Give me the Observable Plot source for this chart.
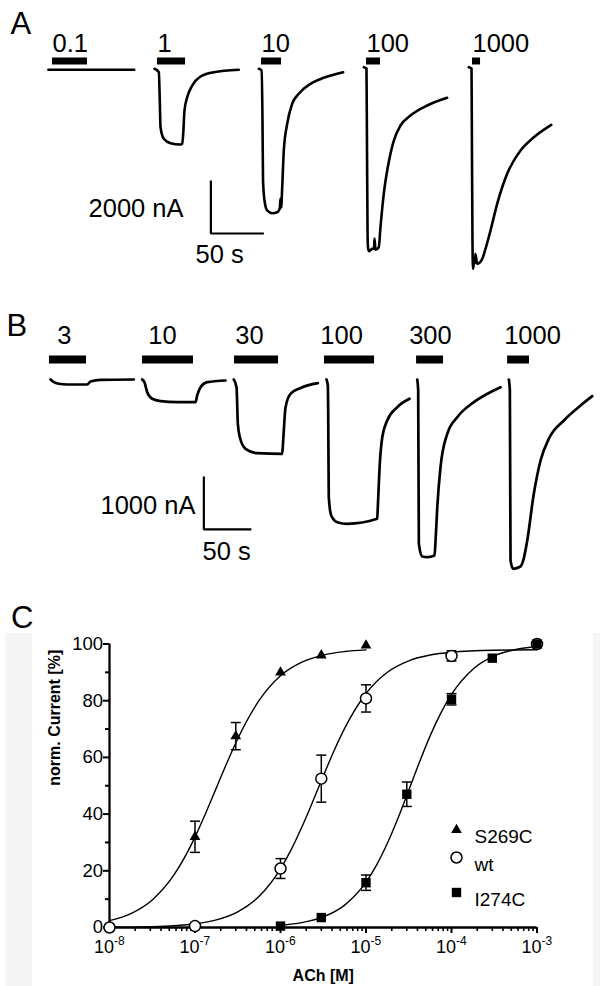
<!DOCTYPE html>
<html><head><meta charset="utf-8">
<script src="https://cdn.jsdelivr.net/npm/d3@7"></script>
<script src="https://cdn.jsdelivr.net/npm/@observablehq/plot@0.6"></script>
<style>
html,body{margin:0;padding:0;background:#fff;}
#root{position:relative;width:600px;height:986px;overflow:hidden;}
#root svg{display:block;}
.band{position:absolute;background:#f5f5f5;}
</style></head>
<body>
<div id="root">
  <div class="band" style="left:5px;top:633px;width:27px;height:353px"></div>
  <div class="band" style="left:593px;top:633px;width:7px;height:353px"></div>
  <div id="pa"></div><div id="pb"></div><div id="pc"></div>
</div>
<script>
// ---------- Panel A: current traces (time in s, current in nA) ----------
const traceA_01 = [[-2,-10],[20,-12],[40,-10],[60,-11],[79,-10]];
const traceA_1 = [[98.1,26],[102.2,-102],[103.1,-1170],[103.8,-2178],[106.9,-2615],[113.2,-2781],[122.6,-2830],[124.2,-2804],[125.2,-2427],[126.4,-1547],[129.0,-1045],[133.7,-604],[141.5,-264],[154.1,-102],[177.6,-11]];
const traceA_10 = [[196.5,26],[199.1,-38],[200.0,-1925],[200.5,-4189],[201.9,-4944],[204.4,-5321],[209.1,-5423],[213.9,-5385],[216.3,-5246],[217.0,-4868],[217.6,-5208],[218.6,-4442],[220.1,-3057],[223.3,-2049],[228.0,-1294],[234.2,-917],[245.3,-540],[257.8,-313],[276.1,-102]];
const traceA_100 = [[295.6,87],[298.1,38],[298.6,-3057],[299.1,-6076],[299.5,-6706],[300.3,-6857],[303.5,-6767],[305.2,-6755],[305.7,-6378],[306.6,-6804],[309.7,-6706],[311.3,-5952],[314.4,-4691],[318.2,-3687],[323.9,-2680],[330.2,-2113],[339.6,-1736],[355.4,-1359],[374.2,-1068]];
const traceA_1000 = [[394.6,87],[397.2,38],[397.6,-3057],[398.1,-6453],[398.6,-7521],[399.3,-7333],[400.5,-7284],[400.9,-6955],[402.5,-7333],[407.3,-7144],[410.4,-6767],[415.1,-6076],[421.4,-5069],[430.8,-3936],[443.4,-3057],[456.0,-2555],[472.4,-2087]];
const concLabelsA = ["0.1","1","10","100","1000"];
const barStartA = [1.9,100.9,199.1,298.1,398.1];
const barEndA = [34.9,127.4,217.9,311.3,405.7];

// ---------- Panel B ----------
const traceB_3 = [[0,0],[3.5,-51],[8.4,-81],[17.6,-94],[38.6,-94],[42.1,-38],[52.6,-6],[87.7,0]];
const traceB_10 = [[96.5,0],[98.9,-51],[101.8,-240],[107.0,-364],[115.8,-409],[133.4,-428],[152.6,-428],[154.4,-302],[157.9,-145],[164.9,-51],[184.2,-19]];
const traceB_30 = [[192.9,0],[195.8,-145],[197.2,-836],[199.3,-1089],[205.3,-1308],[217.6,-1391],[243.9,-1402],[244.9,-1151],[247.4,-523],[252.6,-270],[263.2,-160],[281.4,-70]];
const traceB_100 = [[290.5,0],[291.9,-113],[292.3,-642],[292.9,-2221],[295.5,-2566],[301.8,-2693],[312.3,-2723],[343.9,-2629],[344.5,-2410],[346.6,-1591],[349.2,-1089],[354.4,-774],[364.9,-523],[377.9,-364]];
const traceB_300 = [[386.0,0],[387.0,-208],[387.7,-3100],[391.3,-3340],[396.5,-3353],[404.2,-3321],[405.3,-3038],[407.1,-2410],[410.5,-1655],[417.6,-1025],[428.1,-711],[445.6,-428],[473.7,-145]];
const traceB_1000 = [[482.4,0],[483.5,-208],[484.2,-3415],[487.0,-3572],[494.7,-3529],[497.6,-3415],[501.8,-3038],[508.7,-2157],[515.8,-1528],[524.5,-1119],[540.3,-774],[557.9,-491],[570.2,-315]];
const concLabelsB = ["3","10","30","100","300","1000"];
const labelTimeB = [7,103,194.5,284,377.5,477.5];
const barStartB = [-1.1,96.8,193.7,288.4,385.3,481.1];
const barEndB = [37.9,150.5,240.0,341.1,413.7,504.2];

// ---------- Panel C: concentration-response ----------
const concS269C = [1e-7,3e-7,1e-6,3e-6,1e-5];
const meanS269C = [32,67.5,90,96,99.5];
const semS269C  = [5.5,4.8,0,0,0];
const concWt = [1e-8,1e-7,1e-6,3e-6,1e-5,1e-4,1e-3];
const meanWt = [0,0.5,20.8,52.5,80.8,95.8,100];
const semWt  = [0,0,3.5,8.3,4.8,1.8,0];
const concI274C = [1e-6,3e-6,1e-5,3e-5,1e-4,3e-4,1e-3];
const meanI274C = [0.5,3.5,15.8,47,80.5,95,100];
const semI274C  = [0,0,2.7,4.3,2.0,0,0];
// fitted curves (log10 concentration, % current)
const fitLogS269C = [-8,-7.75,-7.5,-7.25,-7,-6.875,-6.75,-6.625,-6.5,-6.25,-6,-5.75,-5.5,-5.25,-5];
const fitS269C = [2.41,4.91,9.73,18.36,31.89,40.3,49.25,58.2,66.6,80.1,88.8,93.6,96.1,97.33,97.94];
const fitLogWt = [-8,-7.75,-7.5,-7.25,-7,-6.75,-6.5,-6.25,-6,-5.875,-5.75,-5.625,-5.5,-5.375,-5.25,-5,-4.75,-4.5,-4.25,-4,-3.5,-3];
const fitWt = [0.07,0.14,0.29,0.62,1.30,2.70,5.55,11.02,20.71,27.47,35.43,44.24,53.39,62.24,70.23,82.55,90.03,94.06,96.10,97.09,97.79,97.95];
const fitLogI274C = [-6,-5.75,-5.5,-5.25,-5,-4.875,-4.75,-4.625,-4.5,-4.375,-4.25,-4.125,-4,-3.75,-3.5,-3.25,-3];
const fitI274C = [0.78,1.71,3.72,7.90,16.0,22.1,29.7,38.6,48.4,58.3,67.6,75.6,82.2,91.1,95.8,98.06,99.1];
const seriesNames = ["S269C","wt","I274C"];
const decades = [1e-8,1e-7,1e-6,1e-5,1e-4,1e-3];
const yTicks = [0,20,40,60,80,100];

const FONT = '"Liberation Sans", Arial, Helvetica, sans-serif';
const FS = 25.5;
const toRows = (pairs) => pairs.map(([k, pts]) => pts.map(([t, i]) => ({k, t, i}))).flat();
const bars = (lab, s, e) => lab.map((l, j) => ({label: l, s: s[j], e: e[j]}));

// ---------- Plot A ----------
const rowsA = toRows([["0.1",traceA_01],["1",traceA_1],["10",traceA_10],["100",traceA_100],["1000",traceA_1000]]);
const barsA = bars(concLabelsA, barStartA, barEndA);
const sbA = {t: 151.3, i: -6189};
const plotA = Plot.plot({
  width: 600, height: 280, margin: 0,
  x: {domain: [-47.17, 518.87], axis: null},
  y: {domain: [-7963, 2604], axis: null},
  style: {fontFamily: FONT, background: "transparent", overflow: "visible"},
  marks: [
    Plot.line(rowsA, {x: "t", y: "i", z: "k", stroke: "#000", strokeWidth: 2.6, curve: "monotone-x"}),
    Plot.ruleY(barsA, {x1: "s", x2: "e", y: 321, strokeWidth: 7, stroke: "#000"}),
    Plot.text(barsA, {x: "s", y: 679, text: "label", textAnchor: "start", lineAnchor: "bottom", fontSize: FS, fill: "#000"}),
    Plot.line([[sbA.t, sbA.i + 2000], [sbA.t, sbA.i], [sbA.t + 50, sbA.i]], {x: d => d[0], y: d => d[1], strokeWidth: 2.2, stroke: "#000", strokeLinecap: "butt", strokeLinejoin: "miter"}),
    Plot.text(["2000 nA"], {x: 125.5, y: -5585, text: d => d, textAnchor: "end", lineAnchor: "bottom", fontSize: FS, fill: "#000"}),
    Plot.text(["50 s"], {x: 136.8, y: -7284, text: d => d, textAnchor: "start", lineAnchor: "bottom", fontSize: FS, fill: "#000"}),
    Plot.text(["A"], {frameAnchor: "top-left", dx: 10, dy: 33, text: d => d, textAnchor: "start", lineAnchor: "bottom", fontSize: 31, fill: "#000"})
  ]
});
document.getElementById("pa").appendChild(plotA);

// ---------- Plot B ----------
const rowsB = toRows([["3",traceB_3],["10",traceB_10],["30",traceB_30],["100",traceB_100],["300",traceB_300],["1000",traceB_1000]]);
const barsB = bars(concLabelsB, barStartB, barEndB);
const labB = concLabelsB.map((l, j) => ({label: l, t: labelTimeB[j]}));
const sbB = {t: 161.4, i: -2830};
const plotB = Plot.plot({
  width: 600, height: 300, margin: 0,
  x: {domain: [-52.63, 578.9], axis: null},
  y: {domain: [-3793, 1868], axis: null},
  style: {fontFamily: FONT, background: "transparent", overflow: "visible"},
  marks: [
    Plot.line(rowsB, {x: "t", y: "i", z: "k", stroke: "#000", strokeWidth: 2.7, curve: "monotone-x"}),
    Plot.ruleY(barsB, {x1: "s", x2: "e", y: 377, strokeWidth: 8, stroke: "#000"}),
    Plot.text(labB, {x: "t", y: 679, text: "label", textAnchor: "start", lineAnchor: "bottom", fontSize: FS, fill: "#000"}),
    Plot.line([[sbB.t, sbB.i + 1000], [sbB.t, sbB.i], [sbB.t + 50, sbB.i]], {x: d => d[0], y: d => d[1], strokeWidth: 2.2, stroke: "#000", strokeLinecap: "butt", strokeLinejoin: "miter"}),
    Plot.text(["1000 nA"], {x: 152.6, y: -2529, text: d => d, textAnchor: "end", lineAnchor: "bottom", fontSize: FS, fill: "#000"}),
    Plot.text(["50 s"], {x: 160, y: -3415, text: d => d, textAnchor: "start", lineAnchor: "bottom", fontSize: FS, fill: "#000"}),
    Plot.text(["B"], {frameAnchor: "top-left", dx: 6, dy: 55, text: d => d, textAnchor: "start", lineAnchor: "bottom", fontSize: 31, fill: "#000"})
  ]
});
document.getElementById("pb").appendChild(plotB);

// ---------- Plot C ----------
const pts = (c, m, e) => c.map((x, j) => ({c: x, m: m[j], e: e[j]}));
const ptsS = pts(concS269C, meanS269C, semS269C);
const ptsW = pts(concWt, meanWt, semWt);
const ptsI = pts(concI274C, meanI274C, semI274C);
const fit = (L, v, name) => L.map((l, j) => ({c: Math.pow(10, l), v: v[j], name}));
const fitRows = [...fit(fitLogS269C, fitS269C, seriesNames[0]), ...fit(fitLogWt, fitWt, seriesNames[1]), ...fit(fitLogI274C, fitI274C, seriesNames[2])];
const errRows = [...ptsS, ...ptsW, ...ptsI].filter(d => d.e > 0);
const minorTicks = d3.scaleLog().domain([1e-8, 1e-3]).ticks().filter(t => !decades.some(d => Math.abs(t / d - 1) < 1e-6));
const cap = {draw(ctx) { ctx.moveTo(-5, 0); ctx.lineTo(5, 0); }};
const dotS = {symbol: "triangle", r: 4, fill: "#000", stroke: "none"};
const dotW = {symbol: "circle", r: 5.5, fill: "#fff", stroke: "#000", strokeWidth: 1.5};
const dotI = {symbol: "square", r: 5.3, fill: "#000", stroke: "none"};

const plotC = Plot.plot({
  width: 600, height: 406,
  marginLeft: 109, marginRight: 63.5, marginTop: 63.5, marginBottom: 59,
  x: {type: "log", domain: [1e-8, 1e-3]},
  y: {domain: [0, 100]},
  style: {fontFamily: FONT, fontSize: "18px", background: "transparent", overflow: "visible"},
  marks: [
    Plot.axisY({ticks: yTicks, tickSize: 6, tickFormat: () => "", strokeWidth: 2, label: null}),
    Plot.axisY({ticks: [10,30,50,70,90], tickSize: 4, tickFormat: () => "", strokeWidth: 2, label: null}),
    Plot.axisX({ticks: decades, tickSize: 6, tickFormat: () => "", strokeWidth: 2, label: null}),
    Plot.axisX({ticks: minorTicks, tickSize: 4, tickFormat: () => "", strokeWidth: 1.6, label: null}),
    Plot.text(yTicks, {y: d => d, frameAnchor: "left", text: d => String(d), textAnchor: "end", dx: -6.5, fontSize: 18.5, fill: "#000"}),
    Plot.text(decades, {x: d => d, frameAnchor: "bottom", text: () => "10", textAnchor: "end", lineAnchor: "bottom", dx: 4.5, dy: 25, fontSize: 18, fill: "#000"}),
    Plot.text(decades, {x: d => d, frameAnchor: "bottom", text: d => String(Math.round(Math.log10(d))), textAnchor: "start", lineAnchor: "bottom", dx: 4.5, dy: 17, fontSize: 12, fill: "#000"}),
    Plot.ruleX([1e-8], {strokeWidth: 2.3, stroke: "#000"}),
    Plot.ruleY([0], {strokeWidth: 2.3, stroke: "#000"}),
    Plot.line(fitRows, {x: "c", y: "v", z: "name", stroke: "#000", strokeWidth: 1.4, curve: "monotone-x"}),
    Plot.ruleX(errRows, {x: "c", y1: d => d.m - d.e, y2: d => d.m + d.e, stroke: "#000", strokeWidth: 1.5}),
    Plot.dot(errRows, {x: "c", y: d => d.m + d.e, symbol: cap, r: 5, stroke: "#000", strokeWidth: 1.5, fill: "none"}),
    Plot.dot(errRows, {x: "c", y: d => d.m - d.e, symbol: cap, r: 5, stroke: "#000", strokeWidth: 1.5, fill: "none"}),
    Plot.dot(ptsW, {x: "c", y: "m", ...dotW}),
    Plot.dot(ptsS, {x: "c", y: "m", ...dotS}),
    Plot.dot(ptsI, {x: "c", y: "m", ...dotI}),
    // legend
    Plot.dot([seriesNames[0]], {frameAnchor: "top-left", dx: 347, dy: 186, ...dotS}),
    Plot.dot([seriesNames[1]], {frameAnchor: "top-left", dx: 347, dy: 213.5, ...dotW}),
    Plot.dot([seriesNames[2]], {frameAnchor: "top-left", dx: 347, dy: 248.5, ...dotI}),
    Plot.text([seriesNames[0]], {frameAnchor: "top-left", dx: 365, dy: 185, text: d => d, textAnchor: "start", fontSize: 19, fill: "#000"}),
    Plot.text([seriesNames[1]], {frameAnchor: "top-left", dx: 365, dy: 213.5, text: d => d, textAnchor: "start", fontSize: 19, fill: "#000"}),
    Plot.text([seriesNames[2]], {frameAnchor: "top-left", dx: 365, dy: 248.5, text: d => d, textAnchor: "start", fontSize: 19, fill: "#000"}),
    // axis titles and panel letter
    Plot.text(["norm. Current [%]"], {frameAnchor: "left", dx: -54.5, rotate: -90, text: d => d, fontSize: 16, fontWeight: "bold", fill: "#000"}),
    Plot.text(["ACh [M]"], {frameAnchor: "bottom", dy: 53, text: d => d, lineAnchor: "bottom", fontSize: 16, fontWeight: "bold", fill: "#000"}),
    Plot.text(["C"], {frameAnchor: "top-left", dx: -98.5, dy: -16.5, text: d => d, textAnchor: "start", lineAnchor: "bottom", fontSize: 31, fill: "#000"})
  ]
});
document.getElementById("pc").appendChild(plotC);
</script>
</body></html>
